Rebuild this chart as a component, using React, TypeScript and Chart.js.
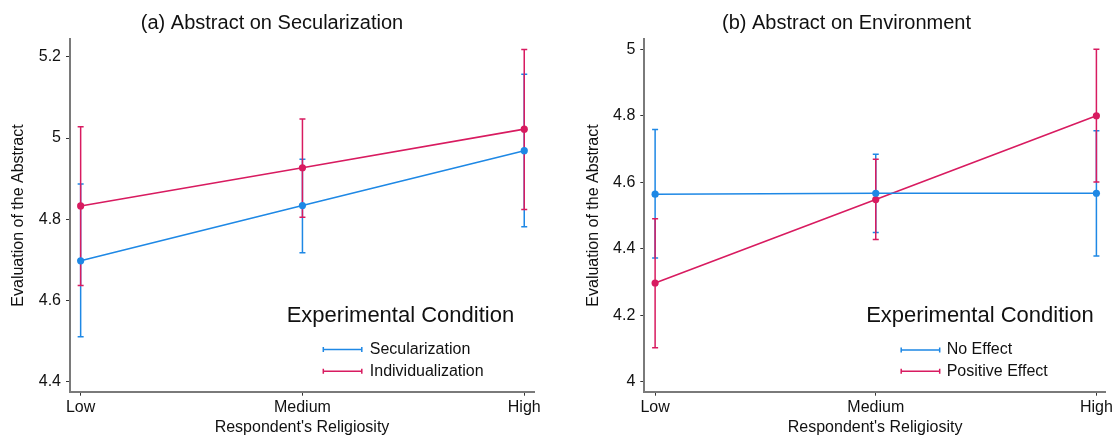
import React, { useEffect, useRef } from "react";
import { Chart, registerables } from "chart.js";

Chart.register(...registerables);

// ---------- data ----------
const religiosityLevels = ["Low", "Medium", "High"];
const xAxisTitle = "Respondent's Religiosity";
const yAxisTitle = "Evaluation of the Abstract";
const legendTitle = "Experimental Condition";

// Panel (a)
const panelATitle = "(a) Abstract on Secularization";
const panelAYTicks = [4.4, 4.6, 4.8, 5, 5.2];
const secularizationLabel = "Secularization";
const secularizationMean = [4.698, 4.834, 4.969];
const secularizationLow = [4.511, 4.718, 4.782];
const secularizationHigh = [4.887, 4.948, 5.157];
const individualizationLabel = "Individualization";
const individualizationMean = [4.833, 4.927, 5.022];
const individualizationLow = [4.637, 4.805, 4.824];
const individualizationHigh = [5.028, 5.047, 5.218];

// Panel (b)
const panelBTitle = "(b) Abstract on Environment";
const panelBYTicks = [4, 4.2, 4.4, 4.6, 4.8, 5];
const noEffectLabel = "No Effect";
const noEffectMean = [4.564, 4.567, 4.567];
const noEffectLow = [4.372, 4.449, 4.378];
const noEffectHigh = [4.759, 4.684, 4.755];
const positiveEffectLabel = "Positive Effect";
const positiveEffectMean = [4.297, 4.548, 4.8];
const positiveEffectLow = [4.102, 4.428, 4.601];
const positiveEffectHigh = [4.49, 4.669, 5.0];

// ---------- styles ----------
const FONT = "'Liberation Sans', Arial, Helvetica, sans-serif";
const TEXT = "#111111";
const BLUE = "#1E88E5";
const RED = "#D81B60";
const AXIS = "#7a7a7a";

const buildPoints = (mean: number[], lo: number[], hi: number[]) =>
  mean.map((m, i) => ({ x: i, y: m, lo: lo[i], hi: hi[i] }));

const errorBarPlugin = {
  id: "errorBars",
  beforeDatasetsDraw(chart: any) {
    const { ctx } = chart;
    const xs = chart.scales.x;
    const ys = chart.scales.y;
    chart.data.datasets.forEach((ds: any) => {
      ctx.save();
      ctx.strokeStyle = ds.borderColor;
      ctx.lineWidth = 1.5;
      ds.data.forEach((p: any) => {
        const x = xs.getPixelForValue(p.x);
        const y1 = ys.getPixelForValue(p.lo);
        const y2 = ys.getPixelForValue(p.hi);
        ctx.beginPath();
        ctx.moveTo(x, y1);
        ctx.lineTo(x, y2);
        ctx.moveTo(x - 3, y1);
        ctx.lineTo(x + 3, y1);
        ctx.moveTo(x - 3, y2);
        ctx.lineTo(x + 3, y2);
        ctx.stroke();
      });
      ctx.restore();
    });
  },
};

const conditionLegendPlugin = {
  id: "conditionLegend",
  afterDraw(chart: any, _args: any, opts: any) {
    const { ctx, chartArea } = chart;
    ctx.save();
    ctx.fillStyle = TEXT;
    ctx.textBaseline = "middle";
    ctx.textAlign = "left";
    ctx.font = `22px ${FONT}`;
    ctx.fillText(opts.title, chartArea.right - opts.titleFromRight, opts.titleY);
    chart.data.datasets.forEach((ds: any, i: number) => {
      const y = opts.firstItemY + i * opts.rowGap;
      const x0 = chartArea.right - opts.keyFromRight;
      const x1 = x0 + opts.keyLength;
      ctx.strokeStyle = ds.borderColor;
      ctx.lineWidth = 1.5;
      ctx.beginPath();
      ctx.moveTo(x0, y);
      ctx.lineTo(x1, y);
      ctx.moveTo(x0, y - 2.5);
      ctx.lineTo(x0, y + 2.5);
      ctx.moveTo(x1, y - 2.5);
      ctx.lineTo(x1, y + 2.5);
      ctx.stroke();
      ctx.fillStyle = TEXT;
      ctx.font = `16px ${FONT}`;
      ctx.fillText(ds.label, x1 + opts.textGap, y);
    });
    ctx.restore();
  },
};

type PanelSpec = {
  title: string;
  yTicks: number[];
  yMin: number;
  yMax: number;
  xMin: number;
  xMax: number;
  padLeft: number;
  padRight: number;
  yAxisWidth: number;
  series: { label: string; color: string; mean: number[]; lo: number[]; hi: number[] }[];
  legend: any;
};

function makeConfig(p: PanelSpec): any {
  return {
    type: "line",
    data: {
      datasets: p.series.map((s) => ({
        label: s.label,
        data: buildPoints(s.mean, s.lo, s.hi),
        borderColor: s.color,
        backgroundColor: s.color,
        borderWidth: 1.6,
        pointRadius: 3.6,
        pointBorderWidth: 0,
        pointBackgroundColor: s.color,
        tension: 0,
        fill: false,
      })),
    },
    options: {
      animation: false,
      responsive: false,
      maintainAspectRatio: false,
      devicePixelRatio: 1,
      layout: { padding: { left: p.padLeft, right: p.padRight, top: 0, bottom: 0 } },
      plugins: {
        legend: { display: false },
        tooltip: { enabled: false },
        title: {
          display: true,
          text: p.title,
          color: TEXT,
          font: { family: FONT, size: 20, weight: "normal", lineHeight: 1.2 },
          padding: { top: 11.25, bottom: 4.05 },
        },
        conditionLegend: p.legend,
      },
      scales: {
        x: {
          type: "linear",
          min: p.xMin,
          max: p.xMax,
          afterBuildTicks: (scale: any) => {
            scale.ticks = religiosityLevels.map((_, i) => ({ value: i }));
          },
          afterFit: (scale: any) => {
            scale.height = 45.3;
          },
          ticks: {
            color: TEXT,
            font: { family: FONT, size: 16 },
            padding: 2,
            maxRotation: 0,
            autoSkip: false,
            callback: (v: any) => religiosityLevels[Math.round(Number(v))] ?? "",
          },
          grid: {
            display: true,
            drawOnChartArea: false,
            drawTicks: true,
            tickLength: 4,
            color: "#333333",
            lineWidth: 1,
          },
          border: { display: true, color: AXIS, width: 2 },
          title: {
            display: true,
            text: xAxisTitle,
            color: TEXT,
            font: { family: FONT, size: 16, lineHeight: 1.2 },
            padding: { top: 0, bottom: 0 },
          },
        },
        y: {
          type: "linear",
          min: p.yMin,
          max: p.yMax,
          afterBuildTicks: (scale: any) => {
            scale.ticks = p.yTicks.map((v) => ({ value: v }));
          },
          afterFit: (scale: any) => {
            scale.width = p.yAxisWidth;
          },
          ticks: {
            color: TEXT,
            font: { family: FONT, size: 16 },
            padding: 5,
            callback: (v: any) => String(Math.round(Number(v) * 10) / 10),
          },
          grid: {
            display: true,
            drawOnChartArea: false,
            drawTicks: true,
            tickLength: 4,
            color: "#333333",
            lineWidth: 1,
          },
          border: { display: true, color: AXIS, width: 2 },
          title: {
            display: true,
            text: yAxisTitle,
            color: TEXT,
            font: { family: FONT, size: 16, lineHeight: 1.1 },
            padding: { top: 0, bottom: 0 },
          },
        },
      },
    },
    plugins: [errorBarPlugin, conditionLegendPlugin],
  };
}

const panelA: PanelSpec = {
  title: panelATitle,
  yTicks: panelAYTicks,
  yMin: 4.376,
  yMax: 5.243,
  xMin: -0.048,
  xMax: 2.044,
  padLeft: 10,
  padRight: 23,
  yAxisWidth: 60,
  series: [
    { label: secularizationLabel, color: BLUE, mean: secularizationMean, lo: secularizationLow, hi: secularizationHigh },
    { label: individualizationLabel, color: RED, mean: individualizationMean, lo: individualizationLow, hi: individualizationHigh },
  ],
  legend: {
    title: legendTitle,
    titleFromRight: 247.3,
    titleY: 315.5,
    keyFromRight: 210.7,
    keyLength: 38.5,
    textGap: 8,
    firstItemY: 349.5,
    rowGap: 21.8,
  },
};

const panelB: PanelSpec = {
  title: panelBTitle,
  yTicks: panelBYTicks,
  yMin: 3.97,
  yMax: 5.03,
  xMin: -0.049,
  xMax: 2.043,
  padLeft: 25,
  padRight: 7,
  yAxisWidth: 59.3,
  series: [
    { label: noEffectLabel, color: BLUE, mean: noEffectMean, lo: noEffectLow, hi: noEffectHigh },
    { label: positiveEffectLabel, color: RED, mean: positiveEffectMean, lo: positiveEffectLow, hi: positiveEffectHigh },
  ],
  legend: {
    title: legendTitle,
    titleFromRight: 239.7,
    titleY: 315.5,
    keyFromRight: 204.7,
    keyLength: 38.5,
    textGap: 7,
    firstItemY: 350,
    rowGap: 21.2,
  },
};

function Panel({ spec, left, width }: { spec: PanelSpec; left: number; width: number }) {
  const ref = useRef<HTMLCanvasElement | null>(null);
  useEffect(() => {
    if (!ref.current) return;
    const chart = new Chart(ref.current, makeConfig(spec));
    return () => chart.destroy();
  }, [spec]);
  return (
    <canvas
      ref={ref}
      width={width}
      height={437}
      style={{ position: "absolute", left, top: 0, width, height: 437 }}
    />
  );
}

export default function App() {
  return (
    <div
      style={{
        position: "fixed",
        left: 0,
        top: 0,
        width: 1115,
        height: 437,
        background: "#ffffff",
        overflow: "hidden",
      }}
    >
      <Panel spec={panelA} left={0} width={557} />
      <Panel spec={panelB} left={560} width={555} />
    </div>
  );
}
